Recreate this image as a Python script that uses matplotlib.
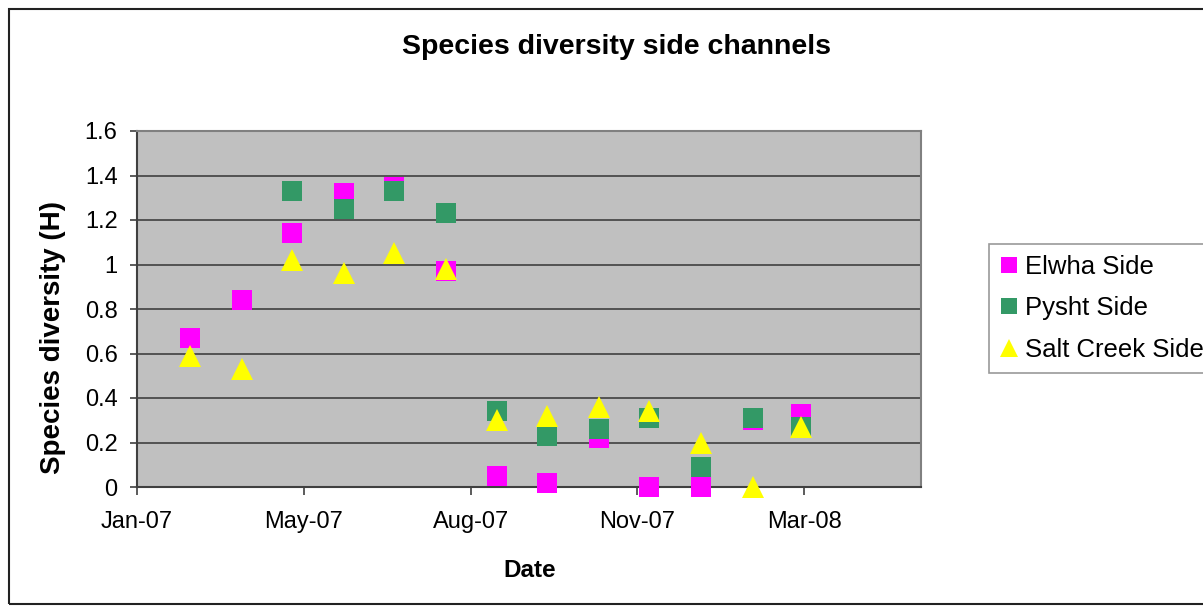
import datetime as dt
import numpy as np
import matplotlib
matplotlib.use("Agg")
import matplotlib.pyplot as plt
import matplotlib.dates as mdates
from matplotlib.lines import Line2D
from matplotlib.patches import Rectangle

plt.rcParams['font.family'] = ['Liberation Sans', 'DejaVu Sans']

# sampling dates (first of each month, Mar 2007 - Mar 2008)
dates = [dt.datetime(2007, m, 1) for m in range(3, 13)] + \
        [dt.datetime(2008, m, 1) for m in range(1, 4)]

elwha = [0.67, 0.84, 1.14, 1.32, 1.35, 0.97, 0.05, 0.02, 0.22, 0.00, 0.00, 0.30, 0.33]
pysht = [np.nan, np.nan, 1.33, 1.25, 1.33, 1.23, 0.34, 0.23, 0.26, 0.31, 0.09, 0.31, 0.27]
salt = [0.59, 0.53, 1.02, 0.96, 1.05, 0.98, 0.30, 0.32, 0.36, 0.34, 0.20, 0.00, 0.27]

series_names = ["Elwha Side", "Pysht Side", "Salt Creek Side"]

# Excel style date axis: min date, 100 day major unit
x_min = dt.datetime(2007, 1, 28)
x_ticks = [x_min + dt.timedelta(days=100 * k) for k in range(5)]
x_max = x_min + dt.timedelta(days=470)
y_ticks = [0, 0.2, 0.4, 0.6, 0.8, 1.0, 1.2, 1.4, 1.6]

W, H = 1203, 613
fig = plt.figure(figsize=(W / 100, H / 100), dpi=100)
fig.patch.set_facecolor('white')

ax = fig.add_axes([137 / W, (H - 487) / H, 784 / W, 356 / H])
ax.set_facecolor('#C0C0C0')

ax.plot(dates, elwha, linestyle='none', marker='s', markersize=14.4,
        color='#FF00FF', markeredgewidth=0, clip_on=False, zorder=3)
ax.plot(dates, pysht, linestyle='none', marker='s', markersize=14.4,
        color='#339966', markeredgewidth=0, clip_on=False, zorder=4)
ax.plot(dates, salt, linestyle='none', marker='^', markersize=16,
        color='#FFFF00', markeredgewidth=0, clip_on=False, zorder=5)

ax.set_xlim(x_min, x_max)
ax.set_ylim(0, 1.6)
ax.set_xticks(x_ticks)
ax.xaxis.set_major_formatter(mdates.DateFormatter('%b-%y'))
ax.set_yticks(y_ticks)
ax.set_yticklabels([f"{v:g}" for v in y_ticks])

ax.yaxis.grid(True, color='#404040', linewidth=1.2)
ax.set_axisbelow(True)

for side in ['left', 'bottom']:
    ax.spines[side].set_color('#404040')
    ax.spines[side].set_linewidth(1.5)
for side in ['top', 'right']:
    ax.spines[side].set_color('#808080')
    ax.spines[side].set_linewidth(1.5)

ax.tick_params(axis='y', direction='out', length=5, width=1.2, color='#404040',
               labelsize=17, pad=9)
ax.tick_params(axis='x', direction='out', length=6, width=1.2, color='#404040',
               labelsize=17, pad=11)

fig.text(616 / W, 1 - 54 / H, "Species diversity side channels", ha='center',
         va='baseline', fontsize=20.5, fontweight='bold')
fig.text(530 / W, 1 - 577 / H, "Date", ha='center', va='baseline',
         fontsize=17.5, fontweight='bold')
fig.text(53 / W, 1 - 337 / H, "Species diversity (H)", ha='center', va='center',
         rotation=90, fontsize=20, fontweight='bold')

handles = [
    Line2D([], [], linestyle='none', marker='s', markersize=11, color='#FF00FF', markeredgewidth=0),
    Line2D([], [], linestyle='none', marker='s', markersize=11, color='#339966', markeredgewidth=0),
    Line2D([], [], linestyle='none', marker='^', markersize=13, color='#FFFF00', markeredgewidth=0),
]
leg = fig.legend(handles, series_names, loc='upper left',
                 bbox_to_anchor=(989 / W, 1 - 244 / H), fontsize=18.5,
                 frameon=True, fancybox=False, shadow=False,
                 handlelength=0.7, handletextpad=0.3, labelspacing=0.68,
                 borderpad=0.42, borderaxespad=0)
leg.get_frame().set_edgecolor('#808080')
leg.get_frame().set_linewidth(1.2)

# chart area border
fig.add_artist(Rectangle((9 / W, 1 - 604 / H), (1223 - 9) / W, (604 - 9) / H,
                         transform=fig.transFigure, fill=False,
                         edgecolor='#222222', linewidth=1.5))

fig.savefig("out.png", dpi=100, facecolor=fig.get_facecolor())
